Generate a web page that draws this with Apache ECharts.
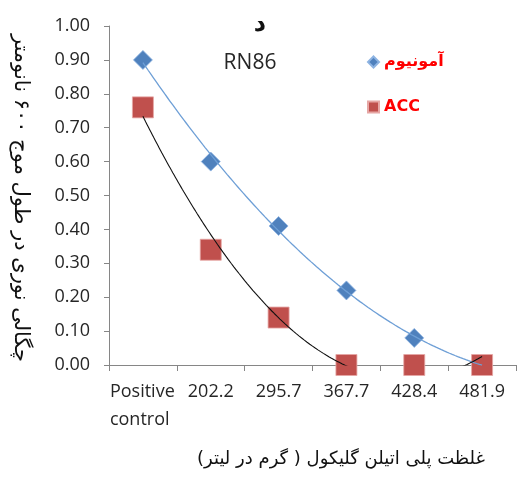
<!DOCTYPE html>
<html>
<head>
<meta charset="utf-8">
<script src="https://cdn.jsdelivr.net/npm/echarts@6/dist/echarts.min.js"></script>
<style>
html,body{margin:0;padding:0;background:#fff;}
#chart{width:517px;height:479px;}
</style>
</head>
<body>
<div id="chart"></div>
<script>
// ---- data ----
const categories = ['Positive\ncontrol', '202.2', '295.7', '367.7', '428.4', '481.9'];
const ammonium = [0.90, 0.60, 0.41, 0.22, 0.08, 0.00];
const acc = [0.76, 0.34, 0.14, 0.00, 0.00, 0.00];
const seriesNames = ['آمونیوم', 'ACC'];
const titleLetter = 'د';
const subtitle = 'RN86';
const xAxisTitle = 'غلظت پلی اتیلن گلیکول ( گرم در لیتر)';
const yAxisTitle = 'چگالی نوری در طول موج ۶۰۰ نانومتر';

// second-order polynomial trendline (least squares, x = 1..n), as Excel does
function polyTrend(ys) {
  const n = ys.length;
  let S = [0, 0, 0, 0, 0], T = [0, 0, 0];
  for (let i = 0; i < n; i++) {
    const x = i + 1, y = ys[i];
    for (let k = 0; k < 5; k++) S[k] += Math.pow(x, k);
    for (let k = 0; k < 3; k++) T[k] += Math.pow(x, k) * y;
  }
  const M = [[S[0], S[1], S[2], T[0]], [S[1], S[2], S[3], T[1]], [S[2], S[3], S[4], T[2]]];
  for (let c = 0; c < 3; c++) {
    for (let r = c + 1; r < 3; r++) {
      const f = M[r][c] / M[c][c];
      for (let k = c; k < 4; k++) M[r][k] -= f * M[c][k];
    }
  }
  const coef = [0, 0, 0];
  for (let r = 2; r >= 0; r--) {
    let s = M[r][3];
    for (let k = r + 1; k < 3; k++) s -= M[r][k] * coef[k];
    coef[r] = s / M[r][r];
  }
  const pts = [];
  for (let x = 1; x <= n + 1e-9; x += 0.02) {
    pts.push([x, coef[0] + coef[1] * x + coef[2] * x * x]);
  }
  return pts;
}

const textColor = '#262626';
const axisColor = '#868686';
const chart = echarts.init(document.getElementById('chart'));
chart.setOption({
  animation: false,
  backgroundColor: '#fff',
  grid: { left: 109, right: 1, top: 26, bottom: 114, containLabel: false },
  legend: {
    orient: 'vertical',
    left: 362,
    top: 47,
    itemWidth: 11,
    itemHeight: 11,
    itemGap: 25,
    data: seriesNames,
    textStyle: { color: '#ff0000', fontWeight: 'bold', fontSize: 16, lineHeight: 20, fontFamily: 'DejaVu Sans, Open Sans' }
  },
  xAxis: [
    {
      type: 'category',
      data: categories,
      boundaryGap: true,
      axisLine: { lineStyle: { color: axisColor, width: 1 } },
      axisTick: { show: true, length: 6, lineStyle: { color: axisColor } },
      axisLabel: {
        color: textColor, fontSize: 18, fontFamily: 'Open Sans', lineHeight: 28, margin: 13, interval: 0,
        formatter: (v) => v.indexOf('\n') >= 0 ? v.split('\n').map(s => '{p|' + s + '}').join('\n') : v,
        rich: { p: { width: 66, align: 'left', fontSize: 18, fontFamily: 'Open Sans', color: textColor, lineHeight: 28 } }
      },
      splitLine: { show: false }
    },
    {
      type: 'value',
      min: 0.5,
      max: 6.5,
      show: false
    }
  ],
  yAxis: {
    type: 'value',
    min: 0,
    max: 1,
    interval: 0.1,
    axisLine: { show: true, lineStyle: { color: axisColor, width: 1 } },
    axisTick: { show: true, length: 5, lineStyle: { color: axisColor } },
    axisLabel: { color: textColor, fontSize: 18, fontFamily: 'Open Sans', margin: 19, formatter: v => v.toFixed(2) },
    splitLine: { show: false }
  },
  series: [
    {
      name: seriesNames[0],
      type: 'scatter',
      xAxisIndex: 0,
      data: ammonium,
      symbol: 'diamond',
      symbolSize: 19,
      itemStyle: { color: '#4f81bd', borderColor: '#8db3e2', borderWidth: 0.8, opacity: 1 },
      z: 2
    },
    {
      name: seriesNames[1],
      type: 'scatter',
      xAxisIndex: 0,
      data: acc,
      symbol: 'rect',
      symbolSize: 21,
      itemStyle: { color: '#c0504d', borderColor: '#e6a6a4', borderWidth: 0.8, opacity: 1 },
      z: 2
    },
    {
      name: 'trend1',
      type: 'line',
      xAxisIndex: 1,
      data: polyTrend(ammonium),
      showSymbol: false,
      clip: true,
      lineStyle: { color: '#6e9fd6', width: 1.3 },
      z: 3,
      silent: true
    },
    {
      name: 'trend2',
      type: 'line',
      xAxisIndex: 1,
      data: polyTrend(acc),
      showSymbol: false,
      clip: true,
      lineStyle: { color: '#111', width: 1.1 },
      z: 3,
      silent: true
    }
  ],
  graphic: [
    { type: 'text', x: 260, y: 25, style: { text: titleLetter, fill: '#111', font: 'bold 24px DejaVu Sans', textAlign: 'center', textVerticalAlign: 'middle' } },
    { type: 'text', x: 250, y: 63, style: { text: subtitle, fill: textColor, font: '21px Open Sans', textAlign: 'center', textVerticalAlign: 'middle' } },
    { type: 'text', x: 341, y: 459, style: { text: xAxisTitle, fill: '#111', font: '18px DejaVu Sans', textAlign: 'center', textVerticalAlign: 'middle' } },
    { type: 'text', x: 20, y: 198, rotation: -Math.PI / 2, style: { text: yAxisTitle, fill: '#111', font: '21px DejaVu Sans', textAlign: 'center', textVerticalAlign: 'middle' } }
  ]
});
</script>
</body>
</html>
